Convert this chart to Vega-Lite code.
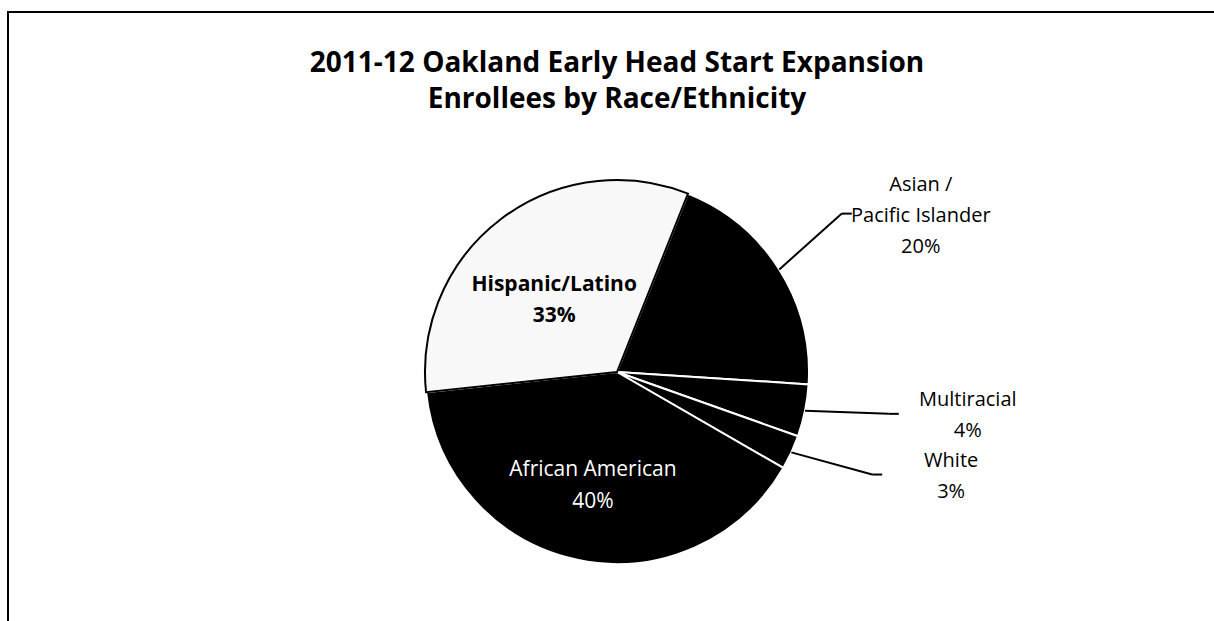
{
  "$schema": "https://vega.github.io/schema/vega-lite/v6.json",
  "width": 1218,
  "height": 720,
  "autosize": {"type": "none"},
  "padding": {"left": 8, "top": 12, "right": 0, "bottom": 0},
  "background": "white",
  "title": {
    "text": ["2011-12 Oakland Early Head Start Expansion", "Enrollees by Race/Ethnicity"],
    "font": "Open Sans",
    "fontSize": 28,
    "fontWeight": "bold",
    "color": "black",
    "anchor": "middle",
    "baseline": "top",
    "offset": 0,
    "dy": 102,
    "lineHeight": 36
  },
  "config": {"view": {"stroke": "black", "strokeWidth": 2}},
  "data": {
    "values": [
      {"group": "Asian / Pacific Islander", "share": 20.0, "ord": 1, "label": "Asian  /\nPacific Islander\n20%"},
      {"group": "Multiracial", "share": 4.4, "ord": 2, "label": "Multiracial\n4%"},
      {"group": "White", "share": 2.9, "ord": 3, "label": "White\n3%"},
      {"group": "African American", "share": 40.0, "ord": 4, "label": "African American\n40%"},
      {"group": "Hispanic/Latino", "share": 32.7, "ord": 5, "label": "Hispanic/Latino\n33%"}
    ]
  },
  "transform": [
    {"window": [{"op": "sum", "field": "share", "as": "cum"}], "sort": [{"field": "ord"}], "frame": [null, 0]},
    {"joinaggregate": [{"op": "sum", "field": "share", "as": "total"}]},
    {"calculate": "0.3787 + 2 * PI * (datum.cum - datum.share / 2) / datum.total", "as": "a"},
    {"calculate": "192 * sin(datum.a)", "as": "ax"},
    {"calculate": "192 * cos(datum.a)", "as": "ay"},
    {"calculate": "275 * sin(datum.a - 0.05)", "as": "bx"},
    {"calculate": "275 * cos(datum.a - 0.05)", "as": "by"},
    {"calculate": "datum.bx + 10", "as": "cx"},
    {"calculate": "length(split(datum.label, '\\n'))", "as": "nlines"},
    {"calculate": "datum.bx + 79", "as": "lx"},
    {"calculate": "datum.by + (datum.nlines - 1) * 15.5 - 2", "as": "ly"}
  ],
  "layer": [
    {
      "mark": {"type": "arc", "outerRadius": 192, "strokeWidth": 2},
      "encoding": {
        "theta": {"field": "share", "type": "quantitative", "stack": true, "scale": {"range": [0.3787, 6.6619]}},
        "order": {"field": "ord", "type": "quantitative"},
        "fill": {
          "field": "group", "type": "nominal", "legend": null,
          "scale": {
            "domain": ["Asian / Pacific Islander", "Multiracial", "White", "African American", "Hispanic/Latino"],
            "range": ["#000000", "#000000", "#000000", "#000000", "#f8f8f8"]
          }
        },
        "stroke": {
          "field": "group", "type": "nominal", "legend": null,
          "scale": {
            "domain": ["Asian / Pacific Islander", "Multiracial", "White", "African American", "Hispanic/Latino"],
            "range": ["#ffffff", "#ffffff", "#ffffff", "#ffffff", "#000000"]
          }
        }
      }
    },
    {
      "mark": {"type": "text", "radius": 104, "font": "Open Sans", "fontSize": 21, "fontWeight": "bold", "color": "black", "lineBreak": "\n", "lineHeight": 31, "align": "center", "baseline": "middle", "dy": -4},
      "encoding": {
        "theta": {"field": "share", "type": "quantitative", "stack": true},
        "order": {"field": "ord", "type": "quantitative"},
        "text": {"condition": {"test": "datum.group === 'Hispanic/Latino'", "field": "label"}, "value": ""}
      }
    },
    {
      "mark": {"type": "text", "radius": 116, "font": "Open Sans", "fontSize": 21, "color": "white", "lineBreak": "\n", "lineHeight": 32, "align": "center", "baseline": "middle", "dy": -15},
      "encoding": {
        "theta": {"field": "share", "type": "quantitative", "stack": true},
        "order": {"field": "ord", "type": "quantitative"},
        "text": {"condition": {"test": "datum.group === 'African American'", "field": "label"}, "value": ""}
      }
    },
    {
      "transform": [{"filter": "datum.share < 25"}],
      "mark": {"type": "rule", "color": "black", "strokeWidth": 2},
      "encoding": {
        "x": {"field": "ax", "type": "quantitative", "scale": {"domain": [-609, 609], "nice": false, "zero": false}, "axis": null},
        "y": {"field": "ay", "type": "quantitative", "scale": {"domain": [-360, 360], "nice": false, "zero": false}, "axis": null},
        "x2": {"field": "bx"},
        "y2": {"field": "by"}
      }
    },
    {
      "transform": [{"filter": "datum.share < 25"}],
      "mark": {"type": "rule", "color": "black", "strokeWidth": 2},
      "encoding": {
        "x": {"field": "bx", "type": "quantitative"},
        "y": {"field": "by", "type": "quantitative"},
        "x2": {"field": "cx"}
      }
    },
    {
      "transform": [{"filter": "datum.share < 25"}],
      "mark": {"type": "text", "font": "Open Sans", "fontSize": 20, "color": "black", "lineBreak": "\n", "lineHeight": 31, "align": "center", "baseline": "middle"},
      "encoding": {
        "x": {"field": "lx", "type": "quantitative"},
        "y": {"field": "ly", "type": "quantitative"},
        "text": {"field": "label"}
      }
    }
  ]
}
